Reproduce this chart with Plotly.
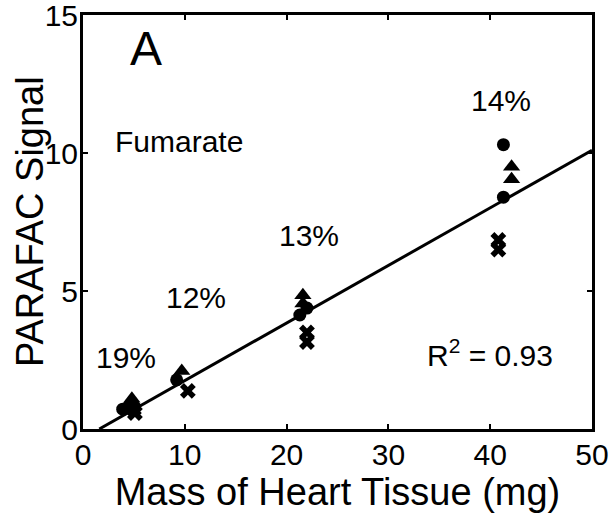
import plotly.graph_objects as go

# Data
circle_x = [3.9, 4.3, 9.2, 21.3, 22.0, 41.3, 41.3]
circle_y = [0.72, 0.76, 1.78, 4.13, 4.38, 10.3, 8.4]
tri_x = [4.8, 4.9, 9.7, 21.6, 21.6, 42.1, 42.1]
tri_y = [1.1, 0.95, 2.1, 4.85, 4.55, 9.5, 9.05]
cross_x = [5.1, 5.0, 10.3, 22.0, 22.0, 40.8, 40.8]
cross_y = [0.58, 0.72, 1.38, 3.5, 3.15, 6.85, 6.5]
fit_x = [1.6, 50]
fit_y = [0.0, 10.1]

pct_labels = ["19%", "12%", "13%", "14%"]
pct_x = [4.2, 11.1, 22.2, 41.1]
pct_y = [2.6, 4.75, 7.0, 11.9]

FONT = "Liberation Sans, Arial, sans-serif"

fig = go.Figure()
fig.add_trace(go.Scatter(x=fit_x, y=fit_y, mode="lines",
                         line=dict(color="black", width=3), showlegend=False))
fig.add_trace(go.Scatter(x=circle_x, y=circle_y, mode="markers",
                         marker=dict(symbol="circle", size=13, color="black"), showlegend=False))
fig.add_trace(go.Scatter(x=tri_x, y=tri_y, mode="markers",
                         marker=dict(symbol="triangle-up", size=15, color="black"), showlegend=False))
fig.add_trace(go.Scatter(x=cross_x, y=cross_y, mode="markers",
                         marker=dict(symbol="x", size=14, color="black"), showlegend=False))

for t, x, y in zip(pct_labels, pct_x, pct_y):
    fig.add_annotation(x=x, y=y, text=t, showarrow=False, font=dict(size=30, color="black", family=FONT))

fig.add_annotation(x=6.2, y=13.8, text="A", showarrow=False, font=dict(size=48, color="black", family=FONT))
fig.add_annotation(x=9.4, y=10.4, text="Fumarate", showarrow=False, font=dict(size=30, color="black", family=FONT))
fig.add_annotation(x=40.0, y=2.75, text="R<sup>2</sup> = 0.93", showarrow=False,
                   font=dict(size=30, color="black", family=FONT))

# y-axis title as rotated annotation for precise placement
fig.add_annotation(xref="paper", yref="paper", x=-0.104, y=0.5, text="PARAFAC Signal",
                   textangle=-90, showarrow=False, xanchor="center", yanchor="middle",
                   font=dict(size=38, color="black", family=FONT))

axis_common = dict(showline=True, linecolor="black", linewidth=3, mirror="ticks",
                   ticks="inside", ticklen=5, tickwidth=2, tickcolor="black",
                   showgrid=False, zeroline=False, automargin=False,
                   ticklabeloverflow="allow",
                   tickfont=dict(size=30, color="black", family=FONT))

fig.update_xaxes(range=[0, 50], tickvals=[0, 10, 20, 30, 40, 50], ticklabelstandoff=-3,
                 title=dict(text="Mass of Heart Tissue (mg)", font=dict(size=38, color="black", family=FONT), standoff=4),
                 **axis_common)
fig.update_yaxes(range=[0, 15], tickvals=[0, 5, 10, 15], ticklabelstandoff=-4,
                 **axis_common)

fig.update_layout(width=614, height=523, margin=dict(l=83, r=22, t=15, b=94),
                  plot_bgcolor="white", paper_bgcolor="white")

fig.write_html("out.html", config={"displayModeBar": False},
               post_script="document.body.style.margin='0';")
